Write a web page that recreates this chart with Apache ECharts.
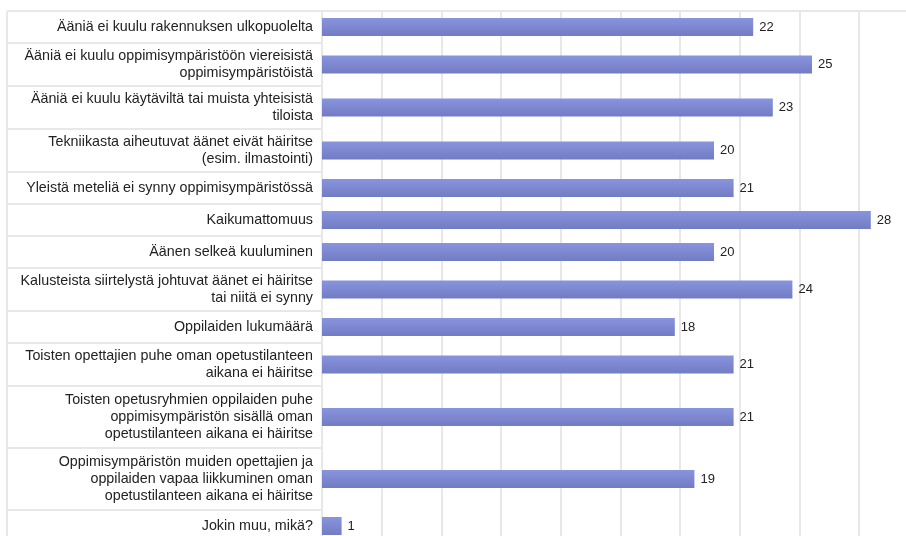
<!DOCTYPE html>
<html><head><meta charset="utf-8">
<script src="https://cdn.jsdelivr.net/npm/echarts@6/dist/echarts.min.js"></script>
<style>html,body{margin:0;padding:0;background:#fff}#c{width:906px;height:536px}</style>
</head><body><div id="c"></div>
<script>
const categories = [
  "Ääniä ei kuulu rakennuksen ulkopuolelta",
  "Ääniä ei kuulu oppimisympäristöön viereisistä\noppimisympäristöistä",
  "Ääniä ei kuulu käytäviltä tai muista yhteisistä\ntiloista",
  "Tekniikasta aiheutuvat äänet eivät häiritse\n(esim. ilmastointi)",
  "Yleistä meteliä ei synny oppimisympäristössä",
  "Kaikumattomuus",
  "Äänen selkeä kuuluminen",
  "Kalusteista siirtelystä johtuvat äänet ei häiritse\ntai niitä ei synny",
  "Oppilaiden lukumäärä",
  "Toisten opettajien puhe oman opetustilanteen\naikana ei häiritse",
  "Toisten opetusryhmien oppilaiden puhe\noppimisympäristön sisällä oman\nopetustilanteen aikana ei häiritse",
  "Oppimisympäristön muiden opettajien ja\noppilaiden vapaa liikkuminen oman\nopetustilanteen aikana ei häiritse",
  "Jokin muu, mikä?"
];
const values = [22, 25, 23, 20, 21, 28, 20, 24, 18, 21, 21, 19, 1];
const xAxisMax = 30.44;
const gridDivisions = 10;

// ---- layout (derived from label line counts) ----
const ROW_H = {1: 32, 2: 43, 3: 62};
const rows = [];
let acc = 0;
categories.forEach(function (c) {
  const n = c.split('\n').length;
  const h = ROW_H[n] || (32 + (n - 1) * 15);
  rows.push({start: acc, end: acc + h, center: acc + h / 2});
  acc += h;
});
const TOTAL = acc;
const seriesData = values.map(function (v, i) {
  return [v, rows[i].center, rows[i].start, rows[i].end, i];
});

const LEFT = 322, TOP = 11, LABEL_RIGHT = 313, TABLE_LEFT = 7, BAR_H = 18, PX_PER_UNIT = 19.6;
const LINE_COLOR = '#e8e8e8';
const barFill = {type: 'linear', x: 0, y: 0, x2: 0, y2: 1,
  colorStops: [{offset: 0, color: '#8894de'}, {offset: 1, color: '#727cc3'}]};

const chart = echarts.init(document.getElementById('c'), null, {renderer: 'canvas'});
const gridWidth = xAxisMax * PX_PER_UNIT;
chart.setOption({
  animation: false,
  backgroundColor: '#ffffff',
  grid: {left: LEFT, top: TOP, width: gridWidth, height: TOTAL,
    containLabel: false, outerBoundsMode: 'none'},
  xAxis: {
    type: 'value', min: 0, max: xAxisMax, interval: xAxisMax / gridDivisions,
    axisLine: {show: false}, axisTick: {show: false}, axisLabel: {show: false},
    splitLine: {show: true, lineStyle: {color: LINE_COLOR, width: 2}}
  },
  yAxis: {
    type: 'value', min: 0, max: TOTAL, inverse: true, show: false,
    splitLine: {show: false}
  },
  series: [{
    type: 'custom',
    data: seriesData,
    clip: false,
    renderItem: function (params, api) {
      const v = api.value(0), yc = api.value(1), ys = api.value(2), ye = api.value(3), idx = api.value(4);
      const p0 = api.coord([0, yc]);
      const p1 = api.coord([v, yc]);
      const top = api.coord([0, ys])[1];
      const bot = api.coord([0, ye])[1];
      const children = [];
      children.push({type: 'line', shape: {x1: TABLE_LEFT, y1: top, x2: idx === 0 ? 906 : p0[0], y2: top},
        style: {stroke: LINE_COLOR, lineWidth: 2}});
      children.push({type: 'line', shape: {x1: TABLE_LEFT, y1: top, x2: TABLE_LEFT, y2: bot},
        style: {stroke: LINE_COLOR, lineWidth: 2}});
      children.push({type: 'text', style: {
        text: categories[idx], x: LABEL_RIGHT, y: p0[1], align: 'right', verticalAlign: 'middle',
        font: '14.3px "Liberation Sans", Arial, sans-serif', fill: '#222222', lineHeight: 17}});
      children.push({type: 'rect', shape: {x: p0[0], y: p0[1] - BAR_H / 2, width: p1[0] - p0[0], height: BAR_H},
        style: {fill: barFill}});
      children.push({type: 'text', style: {
        text: String(v), x: p1[0] + 6, y: p1[1], align: 'left', verticalAlign: 'middle',
        font: '13px "Liberation Sans", Arial, sans-serif', fill: '#222222'}});
      return {type: 'group', children: children};
    }
  }]
});
</script>
</body></html>
